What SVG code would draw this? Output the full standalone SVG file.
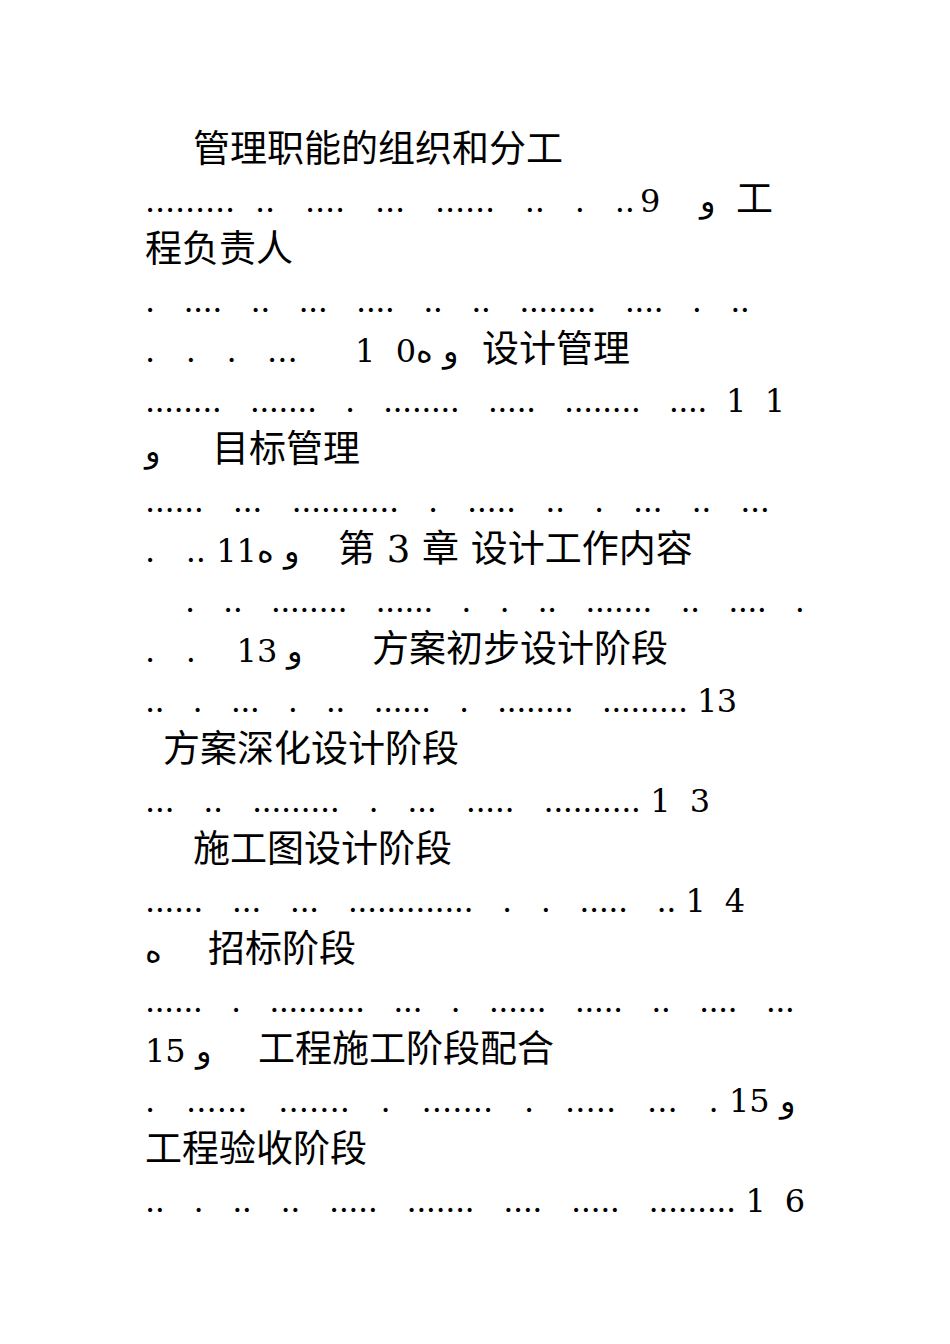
<svg xmlns="http://www.w3.org/2000/svg" width="950" height="1344" viewBox="0 0 950 1344">
<style>
text{font-family:"DejaVu Serif","Noto Sans CJK SC",serif;font-size:32px;fill:#000;white-space:pre;unicode-bidi:bidi-override;direction:ltr}
.c{font-size:37px}
</style>
<rect width="950" height="1344" fill="#fff"/>
<text x="193" y="162" class="c">管理职能的组织和分工</text>
<text x="145" y="212" textLength="490">.........  ..   ....   ...   ......   ..   .   ..</text>
<text x="640" y="212">9</text>
<text x="700" y="212">و</text>
<text x="736" y="212" class="c">工</text>
<text x="145" y="262" class="c">程负责人</text>
<text x="145" y="312" textLength="605">.   ....   ..   ...   ....   ..   ..   ........   ....   .   ..</text>
<text x="145" y="362">.   .   .   ...</text>
<text x="355" y="362">1  0ه و</text>
<text x="482" y="362" class="c">设计管理</text>
<text x="145" y="412" textLength="640">........   .......   .   ........   .....   ........   ....  1  1</text>
<text x="145" y="462">و</text>
<text x="212" y="462" class="c">目标管理</text>
<text x="145" y="512" textLength="625">......   ...   ...........   .   .....   ..   .   ...   ..   ...</text>
<text x="145" y="562">.   .. 11ه و</text>
<text x="338" y="562" class="c">第 3 章 设计工作内容</text>
<text x="185" y="612" textLength="620">.   ..   ........   ......   .   .   ..   .......   ..   ....   .</text>
<text x="145" y="662">.   .    13 و</text>
<text x="372" y="662" class="c">方案初步设计阶段</text>
<text x="145" y="712" textLength="592">..   .   ...   .   ..   ......   .   ........   ......... 13</text>
<text x="163" y="762" class="c">方案深化设计阶段</text>
<text x="145" y="812" textLength="565">...   ..   .........   .   ...   .....   .......... 1  3</text>
<text x="193" y="862" class="c">施工图设计阶段</text>
<text x="145" y="912" textLength="600">......   ...   ...   .............   .   .   .....   .. 1  4</text>
<text x="145" y="962">ه</text>
<text x="208" y="962" class="c">招标阶段</text>
<text x="145" y="1012" textLength="650">......   .   ..........   ...   .   ......   .....   ..   ....   ...</text>
<text x="145" y="1062">15 و</text>
<text x="258" y="1062" class="c">工程施工阶段配合</text>
<text x="145" y="1112" textLength="650">.   ......   .......   .   .......   .   .....   ...   . 15 و</text>
<text x="145" y="1162" class="c">工程验收阶段</text>
<text x="145" y="1212" textLength="660">..   .   ..   ..   .....   .......   ....   .....   ......... 1  6</text>
</svg>
